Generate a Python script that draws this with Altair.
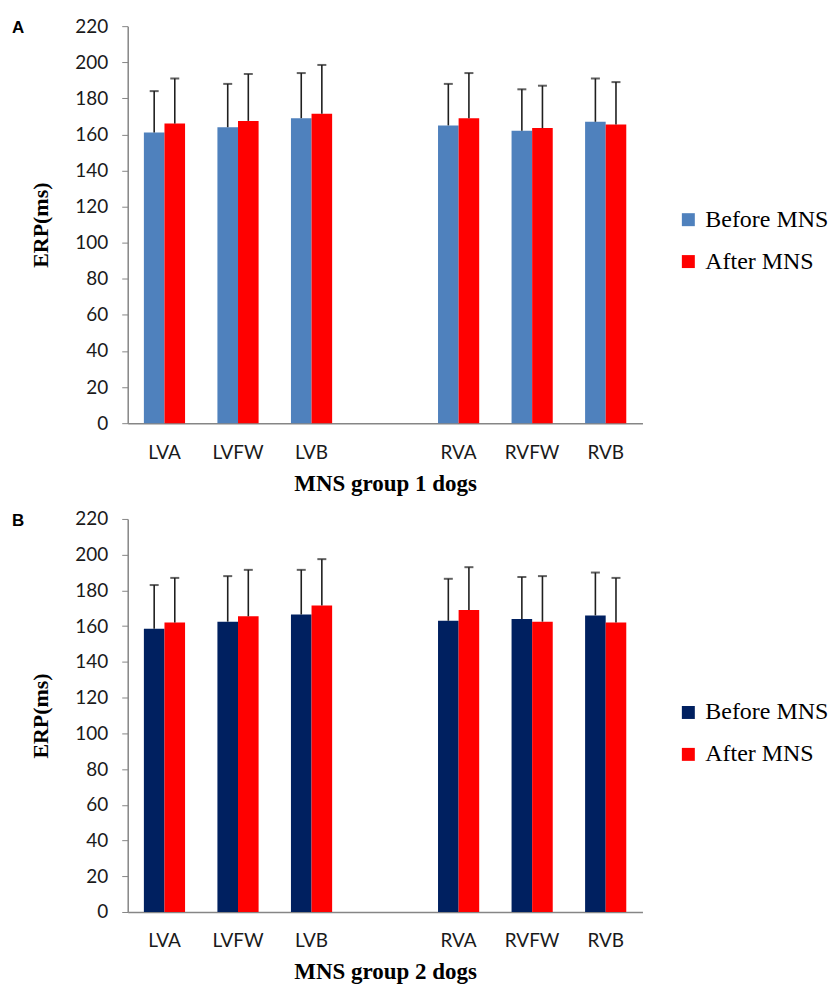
import altair as alt
import pandas as pd

sites = ["LVA", "LVFW", "LVB", "RVA", "RVFW", "RVB"]
slots = ["LVA", "LVFW", "LVB", " ", "RVA", "RVFW", "RVB"]
series = ["Before MNS", "After MNS"]

g1_before = [161, 164, 169, 165, 162, 167]
g1_before_sd = [23, 24, 25, 23, 23, 24]
g1_after = [166, 167.5, 171.5, 169, 163.5, 165.5]
g1_after_sd = [25, 26, 27, 25, 23.5, 23.5]

g2_before = [158.5, 162.5, 166.5, 163, 164, 166]
g2_before_sd = [24.5, 25.5, 25, 23.5, 23.5, 24]
g2_after = [162, 165.5, 171.5, 169, 162.5, 162]
g2_after_sd = [25, 26, 26, 24, 25.5, 25]

y_ticks = list(range(0, 221, 20))

AXIS_GRAY = "#868686"
SANS = "Lato"
SERIF = "Liberation Serif"


def frame(before, before_sd, after, after_sd):
    rows = []
    for i, s in enumerate(sites):
        rows.append(dict(site=s, series="Before MNS", mean=before[i], upper=before[i] + before_sd[i]))
        rows.append(dict(site=s, series="After MNS", mean=after[i], upper=after[i] + after_sd[i]))
    return pd.DataFrame(rows)


def panel(df, letter, before_color, xtitle, height):
    x = alt.X(
        "site:N",
        scale=alt.Scale(domain=slots, paddingInner=0.44, paddingOuter=0.22),
        axis=alt.Axis(
            title=xtitle, labelAngle=0, ticks=False, tickSize=0, labelPadding=20,
            labelFont=SANS, labelFontSize=19, labelColor="#1a1a1a",
            domainColor=AXIS_GRAY, domainWidth=1.5,
            titleFont=SERIF, titleFontSize=23, titleFontWeight="bold", titleColor="#000",
            titlePadding=10,
        ),
    )
    xo = alt.XOffset("series:N", scale=alt.Scale(domain=series, paddingInner=0, paddingOuter=0))
    yscale = alt.Scale(domain=[0, 220], nice=False, zero=True)
    yaxis = alt.Axis(
        title="ERP(ms)", values=y_ticks, tickCount=12, grid=False, tickSize=6, tickColor=AXIS_GRAY,
        domainColor=AXIS_GRAY, domainWidth=1.5, labelPadding=14, labelOverlap=False,
        labelFont=SANS, labelFontSize=19, labelColor="#1a1a1a",
        titleFont=SERIF, titleFontSize=22, titleFontWeight="bold", titleColor="#000",
        titlePadding=22,
    )
    color = alt.Color(
        "series:N",
        scale=alt.Scale(domain=series, range=[before_color, "#FF0000"]),
        legend=alt.Legend(
            title=None, orient="none", legendX=550, legendY=182, direction="vertical",
            symbolType="square", symbolSize=169, symbolStrokeWidth=0, symbolOpacity=1,
            labelFont=SERIF, labelFontSize=24, labelColor="#000", labelOffset=5,
            rowPadding=18, padding=0,
        ),
    )
    bars = alt.Chart(df).mark_bar().encode(
        x=x, xOffset=xo, y=alt.Y("mean:Q", scale=yscale, axis=yaxis), color=color
    )
    rules = alt.Chart(df).mark_rule(color="#1f1f1f", strokeWidth=1.6).encode(
        x=x, xOffset=xo, y=alt.Y("mean:Q", scale=yscale, axis=yaxis), y2="upper:Q"
    )
    caps = alt.Chart(df).mark_tick(color="#1f1f1f", thickness=2, size=9).encode(
        x=x, xOffset=xo, y=alt.Y("upper:Q", scale=yscale, axis=yaxis)
    )
    lab = alt.Chart(pd.DataFrame({"t": [letter]})).mark_text(
        font="Liberation Sans", fontSize=17, fontWeight="bold", color="#000",
        align="left", baseline="middle",
    ).encode(text="t:N", x=alt.value(-116), y=alt.value(2))
    return alt.layer(bars, rules, caps, lab).properties(width=516, height=height)


top = panel(frame(g1_before, g1_before_sd, g1_after, g1_after_sd), "A", "#4F81BD", "MNS group 1 dogs", 398)
bottom = panel(frame(g2_before, g2_before_sd, g2_after, g2_after_sd), "B", "#002060", "MNS group 2 dogs", 394)

chart = (
    alt.vconcat(top, bottom, spacing=15)
    .resolve_scale(color="independent")
    .resolve_legend(color="independent")
    .properties(padding={"left": 4, "top": 8, "right": 0, "bottom": 0}, background="white")
    .configure_view(stroke=None)
)

chart.save("out.html", embed_options={"renderer": "svg", "actions": False})
